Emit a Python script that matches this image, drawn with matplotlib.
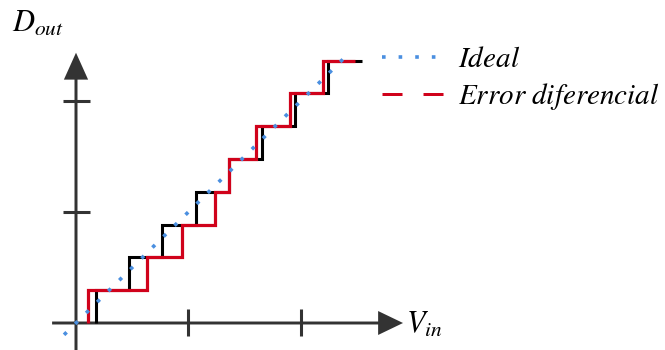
import matplotlib
matplotlib.use("Agg")
import matplotlib.pyplot as plt
from matplotlib.lines import Line2D

plt.rcParams["mathtext.fontset"] = "stix"

# ---------------------------------------------------------------------------
# Transfer curve data (x in LSB of Vin, y in output codes)
# ---------------------------------------------------------------------------
codes = [0, 1, 2, 3, 4, 5, 6, 7, 8]

# ideal quantizer: code transitions every 1 LSB
ideal_edges = [0.6, 1.6, 2.6, 3.6, 4.6, 5.6, 6.6, 7.6]
ideal_end = 8.6

# quantizer with differential non-linearity (uneven step widths)
dnl_edges = [0.36, 2.14, 3.19, 4.19, 4.61, 5.42, 6.45, 7.44]
dnl_end = 8.4

# ideal (infinite resolution) straight line
line_x = [-0.36, 8.2]
line_y = [-0.36, 8.2]

tick_pos = [3.38, 6.78]

BLUE = "#4a8fe0"
RED = "#d0021b"
AXIS = "#333333"

# pixel scale of one LSB on each axis
SX, SY = 33.2, 32.8
W, H = 665, 350
X0, Y0 = 76, 323


def staircase(edges, end):
    xs, ys = [], []
    for k, e in enumerate(edges):
        xs += [e, e]
        ys += [codes[k], codes[k + 1]]
    xs.append(end)
    ys.append(codes[len(edges)])
    return xs, ys


fig = plt.figure(figsize=(W / 100, H / 100), dpi=100)
ax = fig.add_axes([0, 0, 1, 1])
ax.set_xlim(-X0 / SX, (W - X0) / SX)
ax.set_ylim((Y0 - H) / SY, Y0 / SY)
ax.axis("off")

# ── axes with arrow heads ───────────────────────────────────────────────
ax.arrow(-0.72, 0, 9.85 + 0.72, 0, width=0.09, head_width=0.73,
         head_length=0.75, length_includes_head=True, color=AXIS, lw=0)
ax.arrow(0, -0.9, 0, 8.24 + 0.9, width=0.09, head_width=0.73,
         head_length=0.82, length_includes_head=True, color=AXIS, lw=0)
for t in tick_pos:
    ax.plot([t, t], [-0.4, 0.42], color=AXIS, lw=2.2, solid_capstyle="butt")
    ax.plot([-0.4, 0.42], [t, t], color=AXIS, lw=2.2, solid_capstyle="butt")

# ── staircases ──────────────────────────────────────────────────────────
bx, by = staircase(ideal_edges, ideal_end)
ax.plot(bx, by, color="black", lw=2.2, solid_joinstyle="miter",
        solid_capstyle="butt", zorder=3)
rx, ry = staircase(dnl_edges, dnl_end)
ax.plot(rx, ry, color=RED, lw=2.3, solid_joinstyle="miter",
        solid_capstyle="butt", zorder=4)
ax.plot(line_x, line_y, color=BLUE, lw=2.6, dashes=(1, 3.3), zorder=5)

# ── labels ──────────────────────────────────────────────────────────────
fig.text(12 / W, 1 - 32 / H, r"$D_{out}$", fontsize=22, va="baseline")
fig.text(406 / W, 1 - 333 / H, r"$V_{in}$", fontsize=22, va="baseline")

handles = [
    Line2D([], [], color=BLUE, lw=2.6, dashes=(1, 3.6)),
    Line2D([], [], color=RED, lw=2.16, dashes=(6.67, 7)),
]
ax.legend(handles, [r"$Ideal$", r"$Error\ diferencial$"],
          loc="upper left", bbox_to_anchor=(382 / W, 1 - 45 / H),
          bbox_transform=fig.transFigure, frameon=False, fontsize=21,
          handlelength=2.2, handletextpad=0.42, borderpad=0,
          borderaxespad=0, labelspacing=0.28)

fig.savefig("out.png", dpi=100, facecolor="white")
